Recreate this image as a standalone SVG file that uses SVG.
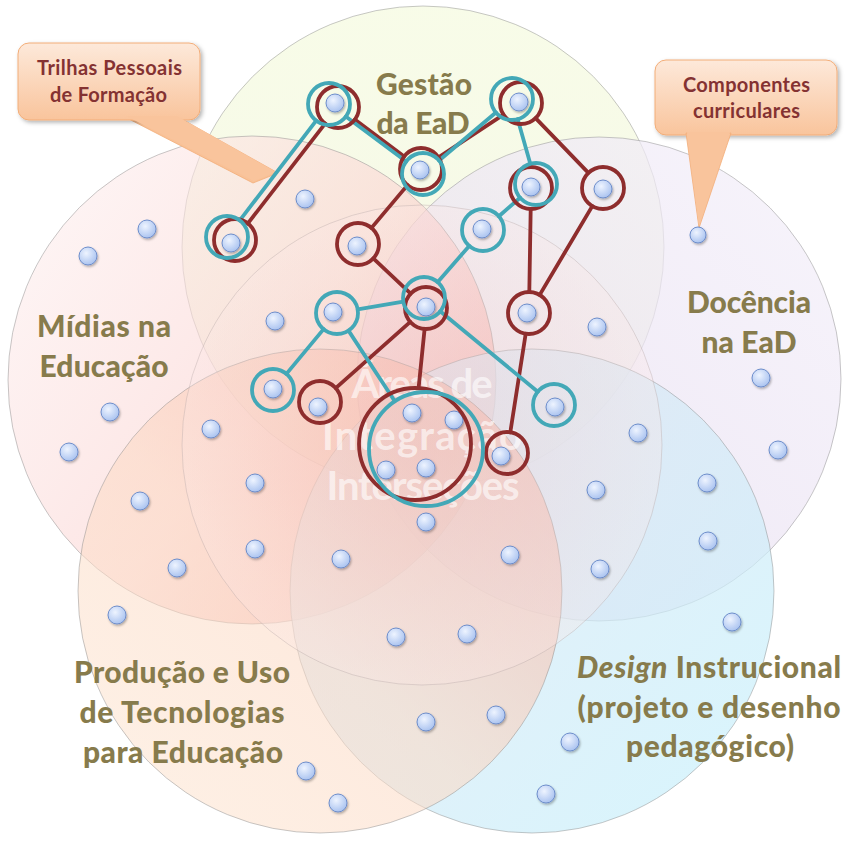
<svg xmlns="http://www.w3.org/2000/svg" width="848" height="844" viewBox="0 0 848 844">
<defs>
<linearGradient id="gGestao" x1="0" y1="0" x2="0" y2="1"><stop offset="0" stop-color="#f4fadc"/><stop offset="1" stop-color="#eff3d8"/></linearGradient>
<linearGradient id="gMidias" x1="0" y1="0.2" x2="1" y2="0.9"><stop offset="0" stop-color="#fdeeee"/><stop offset="0.5" stop-color="#fbd4d2"/><stop offset="1" stop-color="#f39a90"/></linearGradient>
<linearGradient id="gDocencia" x1="0" y1="1" x2="1" y2="0"><stop offset="0" stop-color="#e4d9ee"/><stop offset="1" stop-color="#f4f0fa"/></linearGradient>
<linearGradient id="gProducao" x1="1" y1="0" x2="0" y2="1"><stop offset="0" stop-color="#f5a696"/><stop offset="0.55" stop-color="#fcd9c3"/><stop offset="1" stop-color="#fde6d2"/></linearGradient>
<linearGradient id="gDesign" x1="0" y1="0" x2="1" y2="1"><stop offset="0" stop-color="#dfe4f2"/><stop offset="1" stop-color="#c6f1fc"/></linearGradient>
<radialGradient id="gCentro"><stop offset="0" stop-color="#f6c4c0"/><stop offset="1" stop-color="#fbe6e4"/></radialGradient>
<radialGradient id="gDot" cx="0.4" cy="0.35" r="0.7"><stop offset="0" stop-color="#eef4ff"/><stop offset="1" stop-color="#a6c0ef"/></radialGradient>
<linearGradient id="gCallout" x1="0" y1="0" x2="0" y2="1"><stop offset="0" stop-color="#fde9da"/><stop offset="1" stop-color="#f9c49c"/></linearGradient>
<filter id="shadow" x="-20%" y="-20%" width="150%" height="150%"><feDropShadow dx="2" dy="2" stdDeviation="2" flood-color="#000" flood-opacity="0.3"/></filter>
<filter id="dshadow" x="-40%" y="-40%" width="190%" height="190%"><feDropShadow dx="1" dy="1.5" stdDeviation="1" flood-color="#000" flood-opacity="0.3"/></filter>
</defs>
<style>
.area{stroke:#8f8f8f;stroke-width:0.7;stroke-opacity:0.7}
.lbl{font-family:Lato,"Open Sans","Liberation Sans",sans-serif;font-weight:900;font-size:30px;fill:#877b4c;text-anchor:middle}
.ctr{font-family:Lato,"Open Sans","Liberation Sans",sans-serif;font-weight:bold;font-size:40px;fill:#ffffff;fill-opacity:0.62;text-anchor:middle}
.co{font-family:Lato,"Open Sans","Liberation Sans",sans-serif;font-weight:bold;font-size:20px;fill:#843232;text-anchor:middle}
.cbox{fill:url(#gCallout);stroke:#f2ad78;stroke-width:1}
.dot{fill:url(#gDot);stroke:#6d8dcb;stroke-width:1}
.rr{fill:none;stroke:#8e2d2d;stroke-width:3.8}
.tr{fill:none;stroke:#43a8b7;stroke-width:3.8}
.rl{stroke:#8e2d2d;stroke-width:3.8;stroke-linecap:round}
.tl{stroke:#43a8b7;stroke-width:3.8;stroke-linecap:round}
</style>
<rect width="848" height="844" fill="#ffffff"/>
<g id="area-gestao"><circle class="area" cx="423" cy="247" r="241" fill="url(#gGestao)" fill-opacity="0.65"/></g>
<g id="area-docencia"><circle class="area" cx="599" cy="379" r="242" fill="url(#gDocencia)" fill-opacity="0.7"/></g>
<g id="area-midias"><circle class="area" cx="252" cy="380" r="244" fill="url(#gMidias)" fill-opacity="0.6"/></g>
<g id="area-design"><circle class="area" cx="532" cy="591" r="242" fill="url(#gDesign)" fill-opacity="0.7"/></g>
<g id="area-producao"><circle class="area" cx="320" cy="591" r="242" fill="url(#gProducao)" fill-opacity="0.55"/></g>
<g id="area-integracao"><circle cx="422" cy="445" r="240" fill="url(#gCentro)" fill-opacity="0.3" stroke="#b0a0a0" stroke-width="0.7" stroke-opacity="0.5"/></g>
<g id="labels">
<text class="lbl" x="424" y="95" textLength="96">Gestão</text>
<text class="lbl" x="423" y="134" textLength="93">da EaD</text>
<text class="lbl" x="104" y="337" textLength="134">Mídias na</text>
<text class="lbl" x="104" y="377" textLength="129">Educação</text>
<text class="lbl" x="749" y="313" textLength="124">Docência</text>
<text class="lbl" x="749" y="353" textLength="95">na EaD</text>
<text class="lbl" x="182" y="683" textLength="216">Produção e Uso</text>
<text class="lbl" x="182" y="723" textLength="205">de Tecnologias</text>
<text class="lbl" x="183" y="763" textLength="200">para Educação</text>
<text class="lbl" x="709" y="678" textLength="264"><tspan font-style="italic">Design</tspan> Instrucional</text>
<text class="lbl" x="709" y="718" textLength="263">(projeto e desenho</text>
<text class="lbl" x="710" y="757" textLength="168">pedagógico)</text>
<text class="ctr" x="422" y="398" textLength="141">Áreas de</text>
<text class="ctr" x="422" y="450" textLength="200">Integração</text>
<text class="ctr" x="423" y="500" textLength="193">Interseções</text>
</g>
<g id="callout-trilhas">
<polygon points="125,117 178,117 278,173 253,183" fill="#f9c196" stroke="#f2ad78" stroke-width="0.8"/>
<rect class="cbox" x="18" y="43" width="182" height="77" rx="11" filter="url(#shadow)"/>
<polygon points="126,116 177,116 276,172 254,181" fill="#f9c49c"/>
<text class="co" x="109.5" y="75" textLength="145">Trilhas Pessoais</text>
<text class="co" x="108.5" y="102" textLength="117">de Formação</text>
</g>
<g id="callout-componentes">
<rect class="cbox" x="655" y="60" width="182" height="75" rx="11" filter="url(#shadow)"/>
<polygon points="686,133 731,133 699,228" fill="#f9c49c" stroke="#f2ad78" stroke-width="0.8"/>
<polygon points="687,132 730,132 699,226" fill="#f9c49c"/>
<text class="co" x="746.5" y="92" textLength="127">Componentes</text>
<text class="co" x="746.5" y="118" textLength="107">curriculares</text>
</g>
<g id="components" filter="url(#dshadow)">
<circle class="dot" cx="335" cy="103" r="9"/><circle class="dot" cx="519" cy="102" r="9"/><circle class="dot" cx="420" cy="170" r="9"/><circle class="dot" cx="531" cy="187" r="9"/><circle class="dot" cx="603" cy="189" r="9"/><circle class="dot" cx="305" cy="199" r="9"/><circle class="dot" cx="147" cy="229" r="9"/><circle class="dot" cx="88" cy="256" r="9"/><circle class="dot" cx="231" cy="243" r="9"/><circle class="dot" cx="357" cy="246" r="9"/><circle class="dot" cx="482" cy="229" r="9"/><circle class="dot" cx="698" cy="235" r="8"/><circle class="dot" cx="275" cy="321" r="9"/><circle class="dot" cx="333" cy="312" r="9"/><circle class="dot" cx="426" cy="307" r="9"/><circle class="dot" cx="527" cy="313" r="9"/><circle class="dot" cx="597" cy="327" r="9"/><circle class="dot" cx="273" cy="389" r="9"/><circle class="dot" cx="318" cy="407" r="9"/><circle class="dot" cx="412" cy="413" r="9"/><circle class="dot" cx="454" cy="420" r="9"/><circle class="dot" cx="555" cy="407" r="9"/><circle class="dot" cx="110" cy="412" r="9"/><circle class="dot" cx="211" cy="429" r="9"/><circle class="dot" cx="69" cy="452" r="9"/><circle class="dot" cx="638" cy="433" r="9"/><circle class="dot" cx="761" cy="378" r="9"/><circle class="dot" cx="778" cy="450" r="9"/><circle class="dot" cx="386" cy="470" r="9"/><circle class="dot" cx="426" cy="468" r="9"/><circle class="dot" cx="501" cy="456" r="9"/><circle class="dot" cx="255" cy="483" r="9"/><circle class="dot" cx="140" cy="501" r="9"/><circle class="dot" cx="596" cy="490" r="9"/><circle class="dot" cx="707" cy="483" r="9"/><circle class="dot" cx="426" cy="522" r="9"/><circle class="dot" cx="255" cy="549" r="9"/><circle class="dot" cx="341" cy="559" r="9"/><circle class="dot" cx="510" cy="555" r="9"/><circle class="dot" cx="600" cy="569" r="9"/><circle class="dot" cx="708" cy="541" r="9"/><circle class="dot" cx="177" cy="568" r="9"/><circle class="dot" cx="117" cy="615" r="9"/><circle class="dot" cx="732" cy="622" r="9"/><circle class="dot" cx="396" cy="637" r="9"/><circle class="dot" cx="467" cy="634" r="9"/><circle class="dot" cx="426" cy="722" r="9"/><circle class="dot" cx="496" cy="715" r="9"/><circle class="dot" cx="570" cy="742" r="9"/><circle class="dot" cx="306" cy="771" r="9"/><circle class="dot" cx="338" cy="803" r="9"/><circle class="dot" cx="546" cy="794" r="9"/>
</g>
<g id="connectors">
<line class="rl" x1="247.9" y1="223.4" x2="325.1" y2="123.6"/>
<line class="rl" x1="354.8" y1="119.6" x2="404.2" y2="156.4"/>
<line class="rl" x1="438.5" y1="157.4" x2="503.5" y2="114.6"/>
<line class="rl" x1="535.6" y1="118.1" x2="588.4" y2="172.9"/>
<line class="rl" x1="407.5" y1="185.1" x2="371.5" y2="227.9"/>
<line class="rl" x1="373.3" y1="258.4" x2="410.7" y2="293.6"/>
<line class="rl" x1="410.3" y1="321.9" x2="335.7" y2="388.1"/>
<line class="rl" x1="424.6" y1="329" x2="418.6" y2="388"/>
<line class="rl" x1="530.7" y1="209" x2="529.3" y2="292"/>
<line class="rl" x1="592.3" y1="206.1" x2="539.7" y2="294.9"/>
<line class="rl" x1="525.7" y1="333.7" x2="510.3" y2="432.3"/>
<line class="tl" x1="239.8" y1="220.3" x2="316.2" y2="120.7"/>
<line class="tl" x1="345.8" y1="116.5" x2="406.2" y2="161.5"/>
<line class="tl" x1="439.1" y1="160.5" x2="495.9" y2="112.5"/>
<line class="tl" x1="517.7" y1="119.2" x2="530.3" y2="163.8"/>
<line class="tl" x1="520.1" y1="197.8" x2="498.9" y2="216.2"/>
<line class="tl" x1="469.2" y1="245.9" x2="437.8" y2="282.1"/>
<line class="tl" x1="403.3" y1="301.6" x2="357.7" y2="309.4"/>
<line class="tl" x1="323.6" y1="329.1" x2="286.4" y2="373.9"/>
<line class="tl" x1="348.5" y1="330.6" x2="394.8" y2="401.3"/>
<line class="tl" x1="440.2" y1="311.3" x2="537.8" y2="391.7"/>
</g>
<g id="trail-red">
<circle class="rr" cx="235" cy="240" r="21"/><circle class="rr" cx="338" cy="107" r="21"/><circle class="rr" cx="421" cy="169" r="21"/><circle class="rr" cx="521" cy="103" r="21"/><circle class="rr" cx="603" cy="188" r="21"/><circle class="rr" cx="531" cy="188" r="21"/><circle class="rr" cx="358" cy="244" r="21"/><circle class="rr" cx="426" cy="308" r="21"/><circle class="rr" cx="320" cy="402" r="21"/><circle class="rr" cx="529" cy="313" r="21"/><circle class="rr" cx="507" cy="453" r="21"/><circle class="rr" cx="415" cy="444" r="56"/>
</g>
<g id="trail-teal">
<circle class="tr" cx="227" cy="237" r="21"/><circle class="tr" cx="329" cy="104" r="21"/><circle class="tr" cx="423" cy="174" r="21"/><circle class="tr" cx="512" cy="99" r="21"/><circle class="tr" cx="536" cy="184" r="21"/><circle class="tr" cx="483" cy="230" r="21"/><circle class="tr" cx="424" cy="298" r="21"/><circle class="tr" cx="337" cy="313" r="21"/><circle class="tr" cx="273" cy="390" r="21"/><circle class="tr" cx="554" cy="405" r="21"/><circle class="tr" cx="426" cy="449" r="57"/>
</g>
</svg>
